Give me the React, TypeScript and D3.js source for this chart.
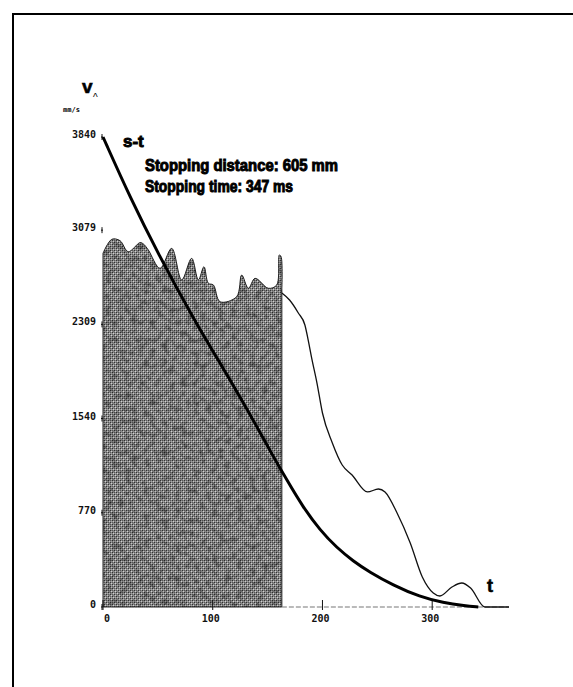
import React from 'react';
import * as d3 from 'd3';

// braking test: speed v (mm/s) and remaining distance s over time t (ms)
const timeTicks = [0, 100, 200, 300];
const speedTicks = [0, 770, 1540, 2309, 3079, 3840];

// speed while the brake is released (shaded part)
const shadedT = [0, 8, 15.5, 23, 33.7, 36.8, 41.3, 52, 62.6, 71.7, 80.8, 86.9, 92, 96, 100.6, 106.7, 121.8, 126.4, 132.5, 138.6, 150.7, 158.3, 160.7, 162.3, 163];
const shadedV = [2890, 3004, 2993, 2903, 2977, 2966, 2917, 2767, 2930, 2672, 2849, 2672, 2780, 2645, 2631, 2494, 2535, 2712, 2604, 2685, 2604, 2631, 2876, 2862, 2600];

// speed after the shaded part
const speedT = [163, 170, 178, 184, 187, 190, 195, 200, 209, 218, 227, 241, 251, 257, 268, 280, 291, 301, 307, 318, 327, 335, 348, 370];
const speedV = [2565, 2508, 2402, 2304, 2181, 2042, 1830, 1585, 1340, 1160, 1078, 940, 964, 940, 768, 523, 245, 114, 90, 163, 196, 155, 0, 0];

// s-t curve
const distT = [0, 25, 50, 82, 116, 143, 152, 168, 182, 198, 213, 228, 243, 264, 289, 310, 330, 342];
const distV = [3840, 3340, 2890, 2360, 1855, 1430, 1280, 1030, 820, 625, 485, 375, 285, 180, 82, 35, 10, 0];

const W = 573;
const H = 687;

export default function App() {
  const x = d3.scaleLinear().domain([0, 370]).range([103, 509]);
  const y = d3.scaleLinear().domain([0, 3840]).range([607, 137]);

  const shadedPts = shadedT.map((t, i) => [t, shadedV[i]] as [number, number]);
  const area = d3
    .area<[number, number]>()
    .x((d) => x(d[0]))
    .y0(y(0))
    .y1((d) => y(d[1]))
    .curve(d3.curveCatmullRom.alpha(0.5));

  const line = d3
    .line<[number, number]>()
    .x((d) => x(d[0]))
    .y((d) => y(d[1]))
    .curve(d3.curveMonotoneX);

  const smooth = d3
    .line<[number, number]>()
    .x((d) => x(d[0]))
    .y((d) => y(d[1]))
    .curve(d3.curveBasis);

  const speedPts = speedT.map((t, i) => [t, speedV[i]] as [number, number]);
  const distPts = distT.map((t, i) => [t, distV[i]] as [number, number]);

  const mono = '"DejaVu Sans Mono", monospace';
  const bold = '"Liberation Sans", Arial, sans-serif';

  return (
    <svg
      width={W}
      height={H}
      style={{ position: 'absolute', left: 0, top: 0, background: '#fff' }}
    >
      <defs>
        <pattern id='dither' width='4' height='4' patternUnits='userSpaceOnUse'>
          <rect width='4' height='4' fill='#8a8a8a' />
          <rect x='0' y='0' width='1' height='1' fill='#333' />
          <rect x='2' y='2' width='1' height='1' fill='#333' />
          <rect x='1' y='1' width='1' height='1' fill='#d0d0d0' />
          <rect x='3' y='3' width='1' height='1' fill='#d0d0d0' />
          <rect x='2' y='0' width='1' height='1' fill='#5a5a5a' />
          <rect x='0' y='2' width='1' height='1' fill='#5a5a5a' />
          <rect x='3' y='1' width='1' height='1' fill='#aaa' />
        </pattern>
        <filter id='grain' x='0' y='0' width='100%' height='100%'>
          <feTurbulence type='fractalNoise' baseFrequency='0.16' numOctaves='3' seed='7' result='n' />
          <feColorMatrix
            in='n'
            type='matrix'
            values='0 0 0 0 0  0 0 0 0 0  0 0 0 0 0  2.6 0 0 0 -1.15'
            result='a'
          />
          <feComposite in='a' in2='SourceGraphic' operator='in' />
        </filter>
      </defs>

      {/* frame */}
      <line x1={12} y1={14} x2={W} y2={14} stroke='#000' strokeWidth={2} />
      <line x1={13} y1={14} x2={13} y2={H} stroke='#000' strokeWidth={2} />

      {/* shaded speed */}
      <path d={area(shadedPts) || ''} fill='url(#dither)' stroke='#222' strokeWidth={1} />
      <path d={area(shadedPts) || ''} fill='#000' filter='url(#grain)' opacity={0.4} />

      {/* baseline */}
      <line
        x1={x(163)}
        x2={x(370)}
        y1={y(0)}
        y2={y(0)}
        stroke='#777'
        strokeWidth={1.2}
        strokeDasharray='5,2'
      />

      {/* x ticks */}
      {timeTicks.map((t) => (
        <g key={t}>
          <line x1={x(t)} x2={x(t)} y1={y(0) - 7} y2={y(0) + 3} stroke='#111' strokeWidth={1} />
          <text
            x={x(t) + (t === 0 ? 4 : -2)}
            y={y(0) + 15}
            textAnchor='middle'
            fontFamily={mono}
            fontWeight='bold'
            fontSize={10}
            fill='#111'
          >
            {t}
          </text>
        </g>
      ))}

      {/* y ticks */}
      {speedTicks.map((v) => (
        <g key={v}>
          <line x1={x(0) - 2} x2={x(0)} y1={y(v)} y2={y(v)} stroke='#111' strokeWidth={1} />
          <line x1={x(0) - 1} x2={x(0) - 1} y1={y(v) - 3} y2={y(v) + 3} stroke='#111' strokeWidth={1} />
          <text
            x={x(0) - 7}
            y={y(v) + 1}
            textAnchor='end'
            fontFamily={mono}
            fontWeight='bold'
            fontSize={10}
            fill='#111'
          >
            {v}
          </text>
        </g>
      ))}

      {/* speed after release */}
      <path d={line(speedPts) || ''} fill='none' stroke='#111' strokeWidth={1.3} />

      {/* s-t */}
      <path d={smooth(distPts) || ''} fill='none' stroke='#000' strokeWidth={3} />

      {/* axis labels */}
      <text x={82} y={93} fontFamily={bold} fontWeight='900' fontSize={19} fill='#000' stroke='#000' strokeWidth={0.6}>
        v
      </text>
      <text x={93} y={101} fontFamily={bold} fontSize={10} fill='#000'>
        ^
      </text>
      <text x={63} y={112} fontFamily={mono} fontWeight='bold' fontSize={7} fill='#000'>
        mm/s
      </text>
      <text x={487} y={592} fontFamily={bold} fontWeight='900' fontSize={18} fill='#000' stroke='#000' strokeWidth={0.6}>
        t
      </text>

      {/* annotations */}
      <text
        x={123}
        y={147}
        fontFamily={bold}
        fontWeight='900'
        fontSize={17}
        fill='#000'
        stroke='#000'
        strokeWidth={0.9}
      >
        s-t
      </text>
      <text
        x={145}
        y={171}
        fontFamily={bold}
        fontWeight='900'
        fontSize={16.5}
        fill='#000'
        stroke='#000'
        strokeWidth={1}
        textLength={193}
        lengthAdjust='spacingAndGlyphs'
      >
        Stopping distance: 605 mm
      </text>
      <text
        x={145}
        y={192}
        fontFamily={bold}
        fontWeight='900'
        fontSize={16.5}
        fill='#000'
        stroke='#000'
        strokeWidth={1}
        textLength={148}
        lengthAdjust='spacingAndGlyphs'
      >
        Stopping time: 347 ms
      </text>
    </svg>
  );
}
